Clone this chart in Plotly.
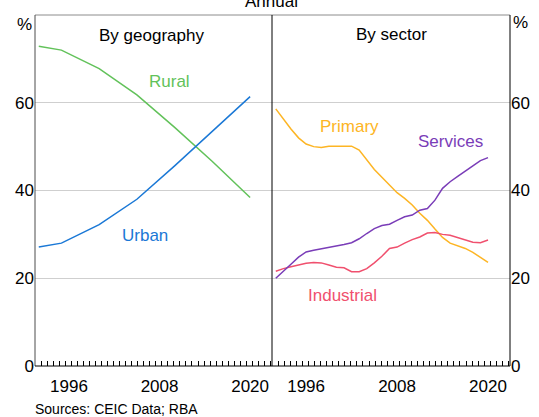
import plotly.graph_objects as go

# ---- data ----
geo_years = [1992, 1995, 2000, 2005, 2010, 2015, 2020]
rural = [72.9, 72.0, 67.8, 61.8, 54.4, 46.6, 38.4]
urban = [27.1, 28.0, 32.2, 38.0, 45.6, 53.4, 61.4]

sector_years = list(range(1992, 2021))
primary = [58.6, 56.3, 54.0, 52.0, 50.6, 50.0, 49.8, 50.1, 50.1, 50.1,
           50.1, 49.2, 47.0, 44.8, 43.0, 41.2, 39.5, 38.2, 36.7, 34.8,
           33.2, 31.2, 29.3, 28.0, 27.4, 26.8, 25.9, 24.8, 23.6]
industrial = [21.6, 22.2, 22.6, 23.0, 23.4, 23.6, 23.5, 23.0, 22.5, 22.4,
              21.5, 21.5, 22.2, 23.5, 25.0, 26.8, 27.1, 28.0, 28.8, 29.4,
              30.3, 30.4, 30.0, 29.8, 29.3, 28.8, 28.2, 28.1, 28.7]
services = [20.0, 21.5, 23.2, 24.8, 26.0, 26.4, 26.7, 27.0, 27.3, 27.7,
            28.1, 29.0, 30.2, 31.3, 32.0, 32.3, 33.2, 34.0, 34.4, 35.5,
            35.9, 37.8, 40.5, 42.0, 43.2, 44.3, 45.6, 46.8, 47.5]

year_ticks = [1996, 2008, 2020]
year_tick_text = ["1996", "2008", "2020"]
pct_ticks = [0, 20, 40, 60]
pct_tick_text = ["0", "20", "40", "60"]

GREEN = "#62C25A"
BLUE = "#1A78D6"
ORANGE = "#FDB524"
PURPLE = "#7A3DB8"
RED = "#F0506E"

FONT = "Arial, Liberation Sans, sans-serif"

W, H = 539, 417
ML, MR, MT, MB = 35, 29, 15, 51
pw = W - ML - MR
ph = H - MT - MB
split = (272 - ML) / pw
XR = [1991.5, 2022.9]

fig = go.Figure()

def add_line(x, y, color, xa, ya):
    fig.add_trace(go.Scatter(x=x, y=y, mode="lines", line=dict(color=color, width=1.5),
                             xaxis=xa, yaxis=ya, showlegend=False, hoverinfo="skip"))

add_line(geo_years, rural, GREEN, "x", "y")
add_line(geo_years, urban, BLUE, "x", "y")
add_line(sector_years, primary, ORANGE, "x2", "y2")
add_line(sector_years, industrial, RED, "x2", "y2")
add_line(sector_years, services, PURPLE, "x2", "y2")

# empty traces so the overlaid label axes are drawn
for xa, ya in (("x3", "y"), ("x4", "y2")):
    fig.add_trace(go.Scatter(x=[], y=[], mode="lines", xaxis=xa, yaxis=ya,
                             showlegend=False, hoverinfo="skip"))

# tick-mark axes (small inside ticks, no labels)
xticks_ax = dict(range=XR, tickmode="linear", tick0=XR[0], dtick=0.8,
                 ticks="inside", ticklen=5, tickwidth=1, tickcolor="black",
                 showticklabels=False, showgrid=False, zeroline=False,
                 showline=False, automargin=False)
# label axes (overlaid, labels only)
xlabel_ax = dict(range=XR, tickmode="array", tickvals=year_ticks, ticktext=year_tick_text,
                 ticks="", showgrid=False, zeroline=False, showline=False,
                 automargin=False, ticklabelstandoff=8,
                 tickfont=dict(size=17, color="black", family=FONT))
ycommon = dict(range=[0, 80], tickmode="array", tickvals=pct_ticks, ticktext=pct_tick_text,
               ticks="", showgrid=True, gridcolor="#cfcfcf", gridwidth=1, zeroline=False,
               showline=False, automargin=False,
               tickfont=dict(size=17, color="black", family=FONT))

fig.update_layout(
    width=W, height=H,
    margin=dict(l=ML, r=MR, t=MT, b=MB, autoexpand=False),
    paper_bgcolor="white", plot_bgcolor="white",
    font=dict(family=FONT, color="black"),
    xaxis=dict(domain=[0, split], anchor="y", **xticks_ax),
    xaxis2=dict(domain=[split, 1], anchor="y2", **xticks_ax),
    xaxis3=dict(overlaying="x", anchor="y", side="bottom", **xlabel_ax),
    xaxis4=dict(overlaying="x2", anchor="y2", side="bottom", **xlabel_ax),
    yaxis=dict(domain=[0, 1], anchor="x", side="left", **ycommon),
    yaxis2=dict(domain=[0, 1], anchor="x2", side="right", **ycommon),
)

# borders
fig.add_shape(type="line", xref="paper", yref="paper", x0=0, x1=1, y0=1, y1=1,
              line=dict(color="#8c8c8c", width=1))
fig.add_shape(type="line", xref="paper", yref="paper", x0=0, x1=0, y0=0, y1=1,
              line=dict(color="#4d4d4d", width=1))
fig.add_shape(type="line", xref="paper", yref="paper", x0=split, x1=split, y0=0, y1=1,
              line=dict(color="black", width=1))
fig.add_shape(type="line", xref="paper", yref="paper", x0=1, x1=1, y0=0, y1=1,
              line=dict(color="black", width=1))
fig.add_shape(type="line", xref="paper", yref="paper", x0=0, x1=1, y0=0, y1=0,
              line=dict(color="black", width=1))

def ann(text, x, y, xref, yref, color="black", size=17, xanchor="center", yanchor="middle"):
    fig.add_annotation(text=text, x=x, y=y, xref=xref, yref=yref, showarrow=False,
                       xanchor=xanchor, yanchor=yanchor,
                       font=dict(size=size, color=color, family=FONT))

ann("By geography", 2007.0, 75.4, "x", "y")
ann("By sector", 2007.2, 75.5, "x2", "y2")
ann("Rural", 2009.3, 64.9, "x", "y", GREEN)
ann("Urban", 2006.1, 29.7, "x", "y", BLUE)
ann("Primary", 2001.75, 54.5, "x2", "y2", ORANGE)
ann("Services", 2015.1, 51.2, "x2", "y2", PURPLE)
ann("Industrial", 2000.8, 16.0, "x2", "y2", RED)

def py(ypix):
    return (H - MB - ypix) / ph
def px(xpix):
    return (xpix - ML) / pw

ann("%", px(24), py(25), "paper", "paper")
ann("%", px(520.5), py(23), "paper", "paper")
ann("Annual", px(271.7), py(1.5), "paper", "paper")
ann("Sources: CEIC Data; RBA", px(33.3), py(409.3), "paper", "paper", size=14,
    xanchor="left")

fig.write_html("out.html", config={"displayModeBar": False},
               post_script="document.body.style.margin='0';document.body.style.overflow='hidden';")
